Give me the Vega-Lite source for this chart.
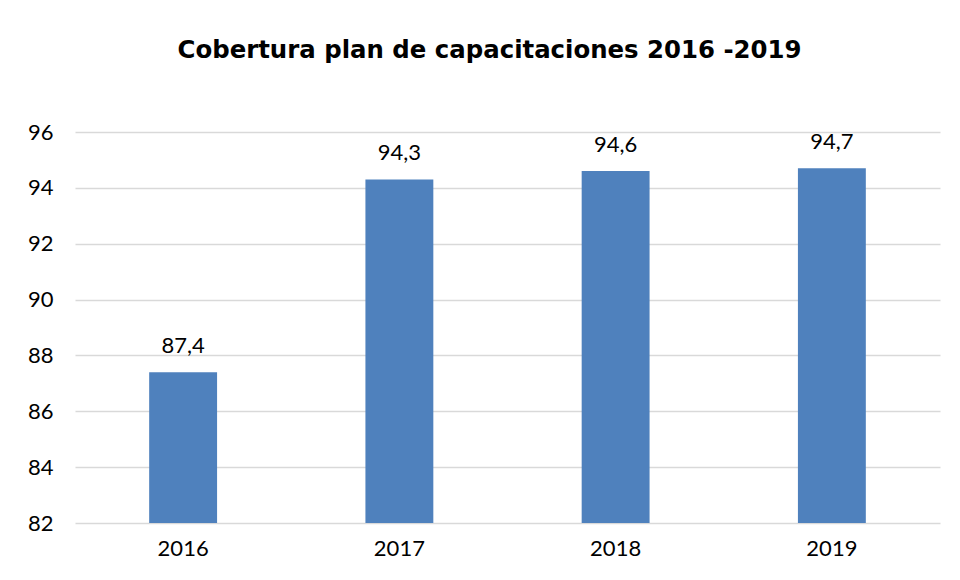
{
  "$schema": "https://vega.github.io/schema/vega-lite/v6.json",
  "autosize": {"type": "none"},
  "width": 865,
  "height": 391,
  "padding": {"left": 75, "top": 132, "right": 20, "bottom": 57},
  "background": "white",
  "title": {
    "text": "Cobertura plan de capacitaciones 2016 -2019",
    "font": "DejaVu Sans",
    "fontSize": 24.4,
    "fontWeight": "bold",
    "color": "#000000",
    "anchor": "middle",
    "dx": -18,
    "offset": 58
  },
  "data": {
    "values": [
      {"year": "2016", "value": 87.4},
      {"year": "2017", "value": 94.3},
      {"year": "2018", "value": 94.6},
      {"year": "2019", "value": 94.7}
    ]
  },
  "encoding": {
    "x": {
      "field": "year",
      "type": "nominal",
      "sort": null,
      "scale": {"paddingInner": 0.686, "paddingOuter": 0.343},
      "axis": {
        "title": null,
        "labelAngle": 0,
        "labelFont": "Lato",
        "labelFontSize": 22,
        "labelColor": "#000000",
        "labelPadding": 15,
        "domain": false,
        "ticks": false,
        "grid": false
      }
    },
    "y": {
      "field": "value",
      "type": "quantitative",
      "scale": {"domain": [82, 96], "nice": false, "zero": false},
      "axis": {
        "title": null,
        "values": [82, 84, 86, 88, 90, 92, 94, 96],
        "format": "d",
        "labelFont": "Lato",
        "labelFontSize": 22,
        "labelColor": "#000000",
        "labelPadding": 22,
        "domain": false,
        "ticks": false,
        "grid": true,
        "gridColor": "#D9D9D9",
        "gridWidth": 1.3
      }
    }
  },
  "layer": [
    {"mark": {"type": "bar", "color": "#4F81BD", "clip": true}},
    {
      "mark": {"type": "text", "baseline": "bottom", "dy": -14, "font": "Lato", "fontSize": 22, "color": "#000000"},
      "encoding": {"text": {"field": "value", "type": "quantitative", "format": ".1f"}}
    }
  ],
  "config": {
    "view": {"stroke": null},
    "locale": {"number": {"decimal": ",", "thousands": ".", "grouping": [3], "currency": ["", " €"]}}
  }
}
